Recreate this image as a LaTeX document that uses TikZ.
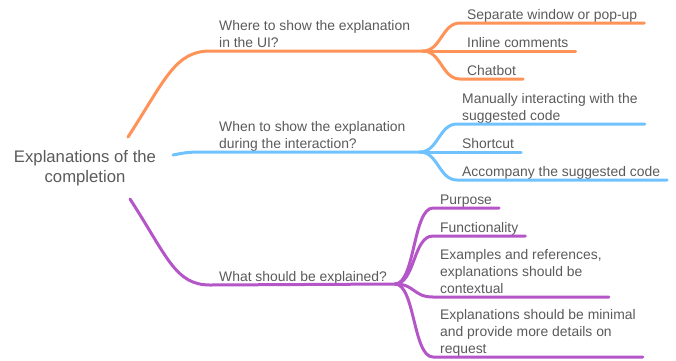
\documentclass[tikz,border=0pt]{standalone}
\usepackage{fontspec}
\setmainfont{Liberation Sans}
\usepackage{tikz}
\definecolor{mmorange}{RGB}{255,146,86}
\definecolor{mmblue}{RGB}{112,194,255}
\definecolor{mmpurple}{RGB}{180,85,200}
\definecolor{mmtext}{RGB}{90,90,90}

\begin{document}
\begin{tikzpicture}[x=1pt, y=-1pt,
	textbox/.style={font=\fontsize{13.9}{17}\selectfont, text=mmtext, inner sep=0, anchor=south west, align=left, execute at end node=\strut},
	rootbox/.style={font=\fontsize{16.7}{20}\selectfont, text=mmtext, inner sep=0, align=center},
	branch/.style={line width=3pt, line cap=round}
]
\useasboundingbox (0,0) rectangle (676,360);
%root
\node[rootbox] (v0) at (85,168) {Explanations of the\\completion};
\coordinate (v0o) at (128,137);
\coordinate (v0b) at (173,155);
\coordinate (v0p) at (130,199);
%first level
\node[textbox] (v1) at (219,52.5) {Where to show the explanation\\in the UI?};
\node[textbox] (v2) at (219,153.5) {When to show the explanation\\during the interaction?};
\node[textbox] (v3) at (219,286.5) {What should be explained?};
\coordinate (f1) at (423,51);
\coordinate (f2) at (420,152);
\coordinate (f3) at (395,284);
\draw [branch, mmorange] (v0o) .. controls +(37,-57) and +(-35,0) .. ([shift={(-9,-1.5)}]v1.south west) -- (f1);
\draw [branch, mmblue] (v0b) .. controls +(15,-3) and +(-20,0) .. ([shift={(-9,-1.5)}]v2.south west) -- (f2);
\draw [branch, mmpurple] (v0p) .. controls +(37,57) and +(-35,0) .. ([shift={(-9,-1.5)}]v3.south west) -- (f3);
%leaves
\node[textbox] (v11) at (467,24.5) {Separate window or pop-up};
\node[textbox] (v12) at (467,52.5) {Inline comments};
\node[textbox] (v13) at (467,80.5) {Chatbot};
\node[textbox] (v21) at (462,125.5) {Manually interacting with the\\suggested code};
\node[textbox] (v22) at (462,153.5) {Shortcut};
\node[textbox] (v23) at (462,181.5) {Accompany the suggested code};
\node[textbox] (v31) at (440,209.5) {Purpose};
\node[textbox] (v32) at (440,237.5) {Functionality};
\node[textbox] (v33) at (440,298.5) {Examples and references,\\explanations should be\\contextual};
\node[textbox] (v34) at (440,358.5) {Explanations should be minimal\\and provide more details on\\request};
\draw [branch, mmorange] (f1) .. controls +(18,0) and +(-18,0) .. ([shift={(-7,-1.5)}]v11.south west) -- ([shift={(7,-1.5)}]v11.south east);
\draw [branch, mmorange] (f1) -- ([shift={(7,-1.5)}]v12.south east);
\draw [branch, mmorange] (f1) .. controls +(18,0) and +(-18,0) .. ([shift={(-7,-1.5)}]v13.south west) -- ([shift={(7,-1.5)}]v13.south east);
\draw [branch, mmblue] (f2) .. controls +(18,0) and +(-18,0) .. ([shift={(-5,-1.5)}]v21.south west) -- ([shift={(7,-1.5)}]v21.south east);
\draw [branch, mmblue] (f2) -- ([shift={(7,-1.5)}]v22.south east);
\draw [branch, mmblue] (f2) .. controls +(18,0) and +(-18,0) .. ([shift={(-5,-1.5)}]v23.south west) -- ([shift={(7,-1.5)}]v23.south east);
\draw [branch, mmpurple] (f3) .. controls +(20,0) and +(-20,0) .. ([shift={(-7,-1.5)}]v31.south west) -- ([shift={(7,-1.5)}]v31.south east);
\draw [branch, mmpurple] (f3) .. controls +(20,0) and +(-20,0) .. ([shift={(-7,-1.5)}]v32.south west) -- ([shift={(7,-1.5)}]v32.south east);
\draw [branch, mmpurple] (f3) .. controls +(20,0) and +(-20,0) .. ([shift={(-7,-1.5)}]v33.south west) -- ([shift={(7,-1.5)}]v33.south east);
\draw [branch, mmpurple] (f3) .. controls +(20,0) and +(-20,0) .. ([shift={(-7,-1.5)}]v34.south west) -- ([shift={(7,-1.5)}]v34.south east);
\end{tikzpicture}
\end{document}
